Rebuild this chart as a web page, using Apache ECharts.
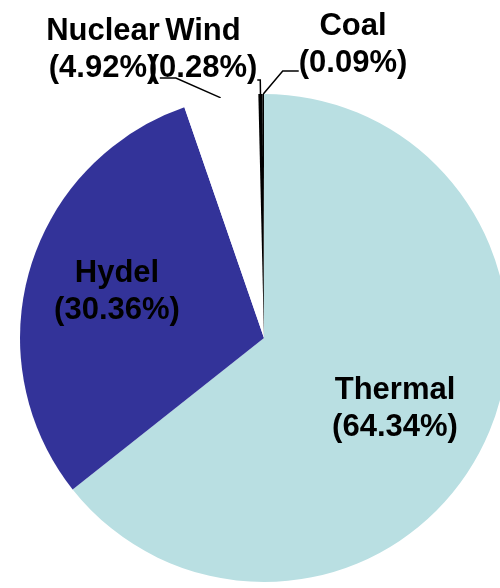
<!DOCTYPE html>
<html>
<head>
<meta charset="utf-8">
<script src="https://cdn.jsdelivr.net/npm/echarts@6/dist/echarts.min.js"></script>
<style>
html,body{margin:0;padding:0;background:#fff;}
#c{width:500px;height:588px;}
</style>
</head>
<body>
<div id="c"></div>
<script>
// Data
const categories = ['Thermal', 'Hydel', 'Nuclear', 'Wind', 'Coal'];
const shares = [64.34, 30.36, 4.92, 0.28, 0.09];
const shareLabels = ['64.34%', '30.36%', '4.92%', '0.28%', '0.09%'];

// Styles (kept separate from data)
const colors = ['#B9DFE2', '#333399', '#FFFFFF', '#000000', '#000000'];
const insideFlags = [true, true, false, false, false];
// label box anchor positions; a blank spacer line under outside labels moves the leader attach point
const labelPos = [[395, 409], [117, 292], [103, 78], [203, 80], [353, 71]];
const spacerHeight = [0, 0, 56, 60, 52];
const line2Len = [0, 0, 16, 3, 16];

const chart = echarts.init(document.getElementById('c'), null, {renderer: 'canvas'});

const data = categories.map((name, i) => ({
  name: name,
  value: shares[i],
  itemStyle: {color: colors[i]},
  label: {
    position: insideFlags[i] ? 'inside' : 'outside',
    rich: {g: {fontSize: 1, lineHeight: spacerHeight[i] || 1}}
  },
  labelLine: {show: !insideFlags[i], length2: line2Len[i]}
}));

chart.setOption({
  animation: false,
  backgroundColor: '#ffffff',
  series: [{
    type: 'pie',
    center: [264, 338],
    radius: [0, 244],
    startAngle: 90,
    clockwise: true,
    avoidLabelOverlap: false,
    data: data,
    itemStyle: {borderWidth: 0},
    label: {
      show: true,
      formatter: function (p) {
        let s = '{t|' + p.name + '}\n{t|(' + shareLabels[p.dataIndex] + ')}';
        if (spacerHeight[p.dataIndex]) s += '\n{g| }';
        return s;
      },
      fontFamily: 'Liberation Sans, Arial, sans-serif',
      fontWeight: 'bold',
      fontSize: 31,
      lineHeight: 37,
      color: '#000000',
      align: 'center',
      rich: {
        t: {
          fontFamily: 'Liberation Sans, Arial, sans-serif',
          fontWeight: 'bold',
          fontSize: 31,
          lineHeight: 37,
          color: '#000000'
        }
      }
    },
    labelLine: {
      show: true,
      length: 12,
      length2: 12,
      minTurnAngle: 0,
      lineStyle: {color: '#000000', width: 1.5}
    },
    labelLayout: function (p) {
      const pos = labelPos[p.dataIndex];
      return {x: pos[0], y: pos[1], align: 'center', verticalAlign: 'middle'};
    }
  }]
});
</script>
</body>
</html>
